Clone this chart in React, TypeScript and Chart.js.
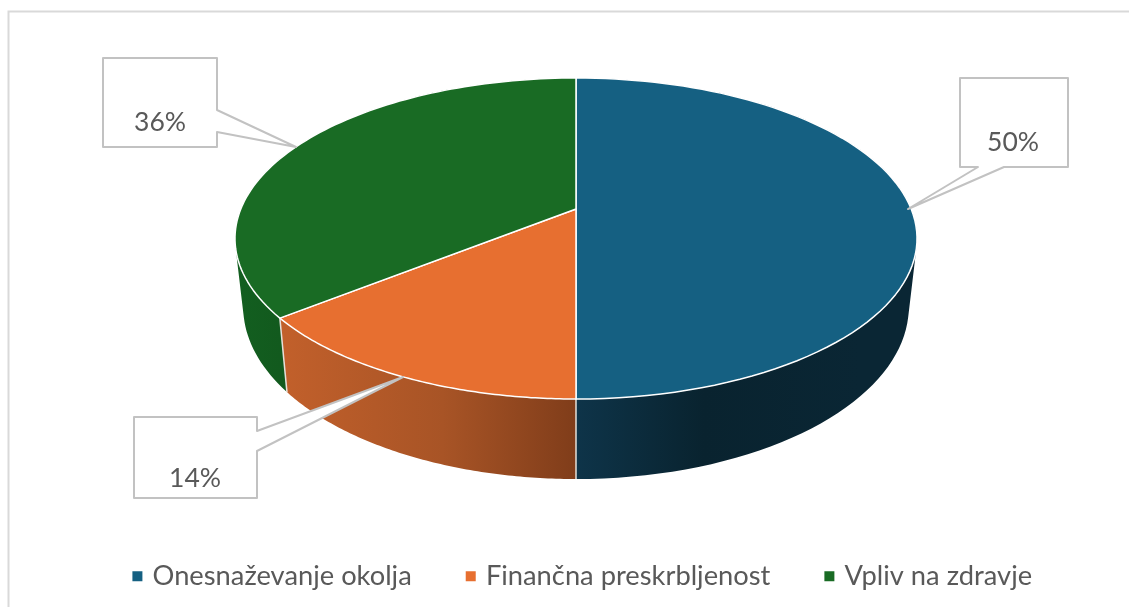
import React, { useEffect, useRef } from "react";
import { Chart, registerables } from "chart.js";

Chart.register(...registerables);

const categories = ["Onesnaževanje okolja", "Finančna preskrbljenost", "Vpliv na zdravje"];
const shares = [50, 14.3, 35.7];
const topColors = ["#156082", "#E76F30", "#196B24"];
const legendFont = "Lato, Carlito, sans-serif";

const sideStops: [number, string][][] = [
  [[0, "#0E3449"], [0.45, "#09232F"], [1, "#0A2634"]],
  [[0, "#C2602B"], [0.55, "#A85426"], [1, "#803D1A"]],
  [[0, "#135F20"], [1, "#125A1E"]],
];

const callouts = [
  { box: [960, 78, 1068, 167], tip: [908, 209], a: [978, 167], b: [1004, 167], text: [1013, 142], side: "bottom" },
  { box: [134, 417, 257, 498], tip: [403, 377], a: [257, 431], b: [257, 451], text: [195, 478], side: "right" },
  { box: [103, 58, 217, 147], tip: [296, 147], a: [217, 110], b: [217, 132], text: [160, 122], side: "right" },
];

const CX = 576, CY = 209, PA = 335.2, PB = 155.1, PC = 0.1838;
const top = (t: number) => {
  const u = Math.cos(t), v = Math.sin(t), w = 1 - PC * v;
  return [CX + (PA * u) / w, CY + (PB * v) / w];
};
const bottom = (t: number) => {
  const [x, y] = top(t);
  return [CX + (x - CX) * 0.976, 479 + (y - 399) * 1.074];
};

const pie3d = {
  id: "pie3d",
  beforeDraw(chart: any) {
    const { ctx, width, height } = chart;
    ctx.save();
    ctx.strokeStyle = "#D9D9D9";
    ctx.lineWidth = 2;
    ctx.beginPath();
    ctx.moveTo(8.5, height);
    ctx.lineTo(8.5, 11.5);
    ctx.lineTo(width, 11.5);
    ctx.stroke();
    ctx.restore();
  },
  beforeDatasetsDraw(chart: any) {
    const { ctx } = chart;
    const arcs = chart.getDatasetMeta(0).data;
    const STEPS = 90;
    const sample = (a: any, fn: (t: number) => number[]) => {
      const out: number[][] = [];
      for (let i = 0; i <= STEPS; i++) out.push(fn(a.startAngle + ((a.endAngle - a.startAngle) * i) / STEPS));
      return out;
    };
    ctx.save();
    ctx.lineJoin = "round";
    // side walls, back to front: one path per slice so no seams show,
    // every quad wound the same way so overlaps stay filled
    [2, 0, 1].forEach((i) => {
      const a = arcs[i];
      const t = sample(a, top);
      const b = sample(a, bottom);
      const xs = t.filter((p) => p[1] > 230).map((p) => p[0]);
      const g = ctx.createLinearGradient(
        i === 0 ? 576 : Math.min(...xs), 0, i === 0 ? 860 : Math.max(...xs), 0);
      sideStops[i].forEach(([o, c]) => g.addColorStop(o, c));
      ctx.fillStyle = g;
      ctx.beginPath();
      for (let k = 0; k < STEPS; k++) {
        const quad = [t[k], t[k + 1], b[k + 1], b[k]];
        let area = 0;
        quad.forEach((p, n) => {
          const q = quad[(n + 1) % 4];
          area += p[0] * q[1] - q[0] * p[1];
        });
        if (area < 0) quad.reverse();
        quad.forEach((p, n) => (n ? ctx.lineTo(p[0], p[1]) : ctx.moveTo(p[0], p[1])));
        ctx.closePath();
      }
      ctx.fill();
    });
    // vertical dividers on the front
    ctx.strokeStyle = "#E4E0DA";
    ctx.lineWidth = 1.5;
    [arcs[0].endAngle, arcs[1].endAngle].forEach((ang: number) => {
      const p = top(ang), q = bottom(ang);
      ctx.beginPath();
      ctx.moveTo(p[0], p[1]);
      ctx.lineTo(q[0], q[1]);
      ctx.stroke();
    });
    // top face
    arcs.forEach((a: any, i: number) => {
      const t = sample(a, top);
      ctx.beginPath();
      ctx.moveTo(CX, CY);
      t.forEach((p) => ctx.lineTo(p[0], p[1]));
      ctx.closePath();
      ctx.fillStyle = topColors[i];
      ctx.fill();
      ctx.strokeStyle = "#FFFFFF";
      ctx.lineWidth = 1.5;
      ctx.stroke();
    });
    // callouts
    const values = chart.data.datasets[0].data;
    callouts.forEach((c, i) => {
      const [l, tp, r, bt] = c.box;
      ctx.beginPath();
      ctx.moveTo(l, tp);
      ctx.lineTo(r, tp);
      if (c.side === "right") {
        ctx.lineTo(c.a[0], c.a[1]);
        ctx.lineTo(c.tip[0], c.tip[1]);
        ctx.lineTo(c.b[0], c.b[1]);
        ctx.lineTo(r, bt);
        ctx.lineTo(l, bt);
      } else {
        ctx.lineTo(r, bt);
        ctx.lineTo(c.b[0], c.b[1]);
        ctx.lineTo(c.tip[0], c.tip[1]);
        ctx.lineTo(c.a[0], c.a[1]);
        ctx.lineTo(l, bt);
      }
      ctx.closePath();
      ctx.fillStyle = "#FFFFFF";
      ctx.fill();
      ctx.strokeStyle = "#C2C2C2";
      ctx.lineWidth = 2;
      ctx.stroke();
      ctx.fillStyle = "#595959";
      ctx.font = `26.5px ${legendFont}`;
      ctx.textAlign = "center";
      ctx.textBaseline = "middle";
      ctx.fillText(`${Math.round(values[i])}%`, c.text[0], c.text[1]);
    });
    ctx.restore();
    return false;
  },
};

export default function App() {
  const ref = useRef<HTMLCanvasElement>(null);
  useEffect(() => {
    const chart = new Chart(ref.current!, {
      type: "pie",
      data: {
        labels: categories,
        datasets: [{ data: shares, backgroundColor: topColors, borderWidth: 0 }],
      },
      options: {
        responsive: false,
        animation: false,
        layout: { padding: { left: 39, bottom: 7 } },
        plugins: {
          tooltip: { enabled: false },
          legend: {
            position: "bottom",
            labels: {
              usePointStyle: true,
              pointStyle: "rect",
              boxWidth: 3,
              boxHeight: 10,
              padding: 57.5,
              color: "#595959",
              font: { family: legendFont, size: 27.3 },
            },
          },
        },
      },
      plugins: [pie3d],
    } as any);
    return () => chart.destroy();
  }, []);
  return (
    <div style={{ position: "fixed", left: 0, top: 0, background: "#fff" }}>
      <canvas ref={ref} width={1129} height={607} style={{ display: "block" }} />
    </div>
  );
}
